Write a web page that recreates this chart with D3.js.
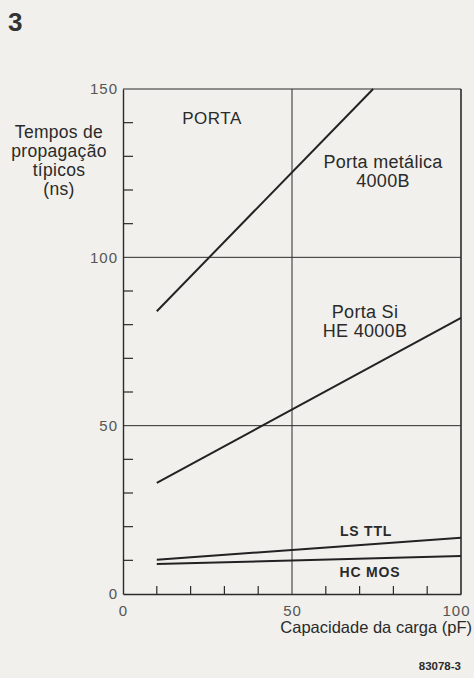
<!DOCTYPE html>
<html>
<head>
<meta charset="utf-8">
<script src="https://cdn.jsdelivr.net/npm/d3@7"></script>
<style>
  body { margin: 0; background: #f1f0ec; }
  svg { display: block; font-family: "Liberation Sans", Arial, sans-serif; }
  .tick text { fill: #555; }
</style>
</head>
<body>
<svg id="chart" width="474" height="678"></svg>
<script>
// valores
var yMajor = [0, 50, 100, 150];
var yMinor = [10, 20, 30, 40, 60, 70, 80, 90, 110, 120, 130, 140];
var xMajor = [0, 50, 100];
var xMinor = [10, 20, 30, 40, 60, 70, 80, 90];

var metalica = [[10, 84], [74, 150]];
var siHE = [[10, 33], [100, 82]];
var lsTTL = [[10, 10.2], [100, 16.7]];
var hcMOS = [[10, 8.9], [100, 11.3]];

var svg = d3.select('#chart');
var plotL = 123, plotR = 461, plotT = 89, plotB = 594;

var x = d3.scaleLinear().domain([0, 100]).range([plotL, plotR]);
var y = d3.scaleLinear().domain([0, 150]).range([plotB, plotT]);
var ink = '#2b2b2b';

// número da figura
svg.append('text').attr('x', 8).attr('y', 31)
    .attr('font-size', 26).attr('font-weight', 'bold').attr('fill', '#333').text('3');

// moldura e grade
var frame = svg.append('g').attr('stroke', ink).attr('stroke-width', 1.2).attr('fill', 'none');
frame.append('line').attr('x1', plotL).attr('x2', plotR).attr('y1', plotT).attr('y2', plotT);
frame.append('line').attr('x1', plotR).attr('x2', plotR).attr('y1', plotT).attr('y2', plotB).attr('stroke-width', 1.6);
[50, 100].forEach(function (v) {
    frame.append('line').attr('x1', plotL).attr('x2', plotR).attr('y1', y(v)).attr('y2', y(v)).attr('stroke-width', 1);
});
frame.append('line').attr('x1', x(50)).attr('x2', x(50)).attr('y1', plotT).attr('y2', plotB).attr('stroke-width', 1);

// marcas menores para dentro
frame.selectAll('.ym').data(yMinor).enter().append('line')
    .attr('x1', plotL).attr('x2', plotL + 10).attr('y1', function (d) { return y(d); }).attr('y2', function (d) { return y(d); });
frame.selectAll('.xm').data(xMinor).enter().append('line')
    .attr('y1', plotB).attr('y2', plotB - 8).attr('x1', function (d) { return x(d); }).attr('x2', function (d) { return x(d); });

// eixos
var yAxis = svg.append('g').attr('transform', 'translate(' + plotL + ',0)')
    .call(d3.axisLeft(y).tickValues(yMajor).tickSize(0).tickPadding(5));
var xAxis = svg.append('g').attr('transform', 'translate(0,' + plotB + ')')
    .call(d3.axisBottom(x).tickValues(xMajor).tickSize(0).tickPadding(11));
[yAxis, xAxis].forEach(function (a) {
    a.select('.domain').attr('stroke', ink).attr('stroke-width', 1.4);
    a.selectAll('.tick text').attr('font-size', 15).attr('font-family', '"Liberation Sans", Arial, sans-serif')
        .attr('letter-spacing', 1);
});
xAxis.selectAll('.tick text').filter(function (d) { return d === 100; }).attr('dx', -5);

// curvas
var line = d3.line().x(function (d) { return x(d[0]); }).y(function (d) { return y(d[1]); });
[metalica, siHE, lsTTL, hcMOS].forEach(function (s) {
    svg.append('path').attr('d', line(s)).attr('fill', 'none')
        .attr('stroke', '#222').attr('stroke-width', 2);
});

// rótulos
function label(lines, cx, cy, size, weight, anchor, gap) {
    var t = svg.append('text').attr('font-size', size).attr('font-weight', weight || 'normal')
        .attr('fill', '#2a2a2a').attr('text-anchor', anchor || 'middle');
    lines.forEach(function (s, i) {
        t.append('tspan').attr('x', cx).attr('y', cy + i * (gap || 19)).text(s);
    });
    return t;
}
label(['Tempos de', 'propagação', 'típicos', '(ns)'], 59, 138, 17.5).attr('letter-spacing', 0.3);
label(['PORTA'], 212, 124, 17).attr('letter-spacing', 0.5);
label(['Porta metálica', '4000B'], 383, 168, 18).attr('letter-spacing', 0.3);
label(['Porta Si', 'HE 4000B'], 365, 318, 18).attr('letter-spacing', 0.3);
label(['LS TTL'], 366, 536, 14, 'bold').attr('letter-spacing', 0.8);
label(['HC MOS'], 370, 577, 14, 'bold').attr('letter-spacing', 0.8);
label(['Capacidade da carga (pF)'], 472, 633, 16.5, 'normal', 'end');
label(['83078-3'], 461, 670, 11.5, 'bold', 'end');
</script>
</body>
</html>
